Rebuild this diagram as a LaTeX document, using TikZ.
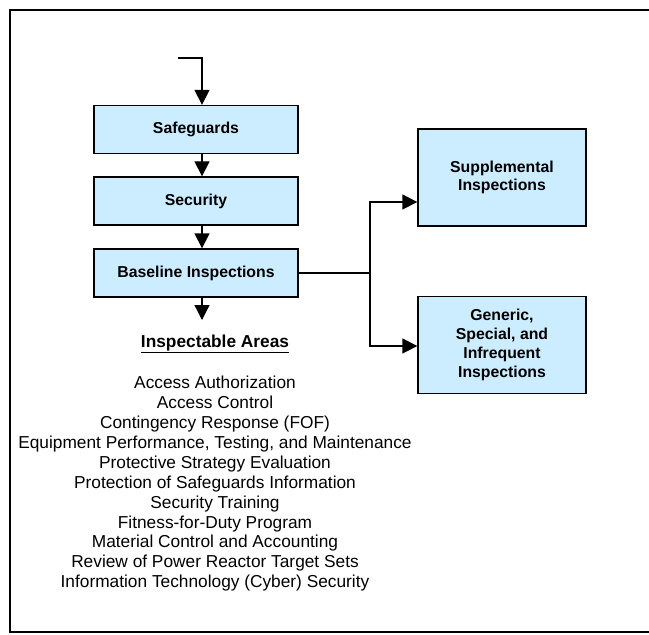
\documentclass[tikz,border=0pt]{standalone}
\usepackage{fontspec}
\setmainfont{Liberation Sans}
\usetikzlibrary{arrows.meta,calc}
\definecolor{boxfill}{RGB}{204,236,255}
\begin{document}
\begin{tikzpicture}[x=1bp,y=-1bp,
  flowbox/.style={draw=black,line width=1.3bp,fill=boxfill,minimum width=204bp,minimum height=48bp,inner sep=0pt,align=center,
    font=\fontsize{15.8bp}{18.8bp}\selectfont\bfseries},
  sidebox/.style={flowbox,minimum width=168bp,minimum height=97bp},
  conn/.style={line width=1.3bp},
  arr/.style={conn,-{Triangle[length=15bp,width=15bp]}},
  listtext/.style={align=center,inner sep=0pt,font=\fontsize{17.3bp}{19.9bp}\selectfont}]
\useasboundingbox (0,0) rectangle (649,635);
\draw[line width=2bp] (652,10) -- (10,10) -- (10,632) -- (652,632);

\node[flowbox] (sg) at (196,129.5) {Safeguards};
\node[flowbox] (sec) at (196,201) {Security};
\node[flowbox] (base) at (196,273) {Baseline Inspections};
\node[sidebox] (sup) at (502,177.5) {Supplemental\\Inspections};
\node[sidebox] (gen) at (502,345) {Generic,\\Special, and\\Infrequent\\Inspections};

\coordinate (ax) at (202,0);
\coordinate (in) at (178,58);
\coordinate (out) at (202,320);
\coordinate (j) at (370,273);
\coordinate (jt) at (370,202);
\coordinate (jb) at (370,346);

\draw[arr] (in) -- (in -| ax) -- (sg.north -| ax);
\draw[arr] (sg.south -| ax) -- (sec.north -| ax);
\draw[arr] (sec.south -| ax) -- (base.north -| ax);
\draw[arr] (base.south -| ax) -- (out);
\draw[conn] (base.east |- j) -- (j);
\draw[arr] (j) -- (jt) -- (jt -| sup.west);
\draw[arr] (j) -- (jb) -- (jb -| gen.west);

\node[listtext,font=\fontsize{17.3bp}{19.9bp}\selectfont\bfseries] (title) at (215,344) {\underline{Inspectable Areas}};
\node[listtext,anchor=north] (list) at (215,376) {Access Authorization\\
Access Control\\
Contingency Response (FOF)\\
Equipment Performance, Testing, and Maintenance\\
Protective Strategy Evaluation\\
Protection of Safeguards Information\\
Security Training\\
Fitness-for-Duty Program\\
Material Control and Accounting\\
Review of Power Reactor Target Sets\\
Information Technology (Cyber) Security};
\end{tikzpicture}
\end{document}
